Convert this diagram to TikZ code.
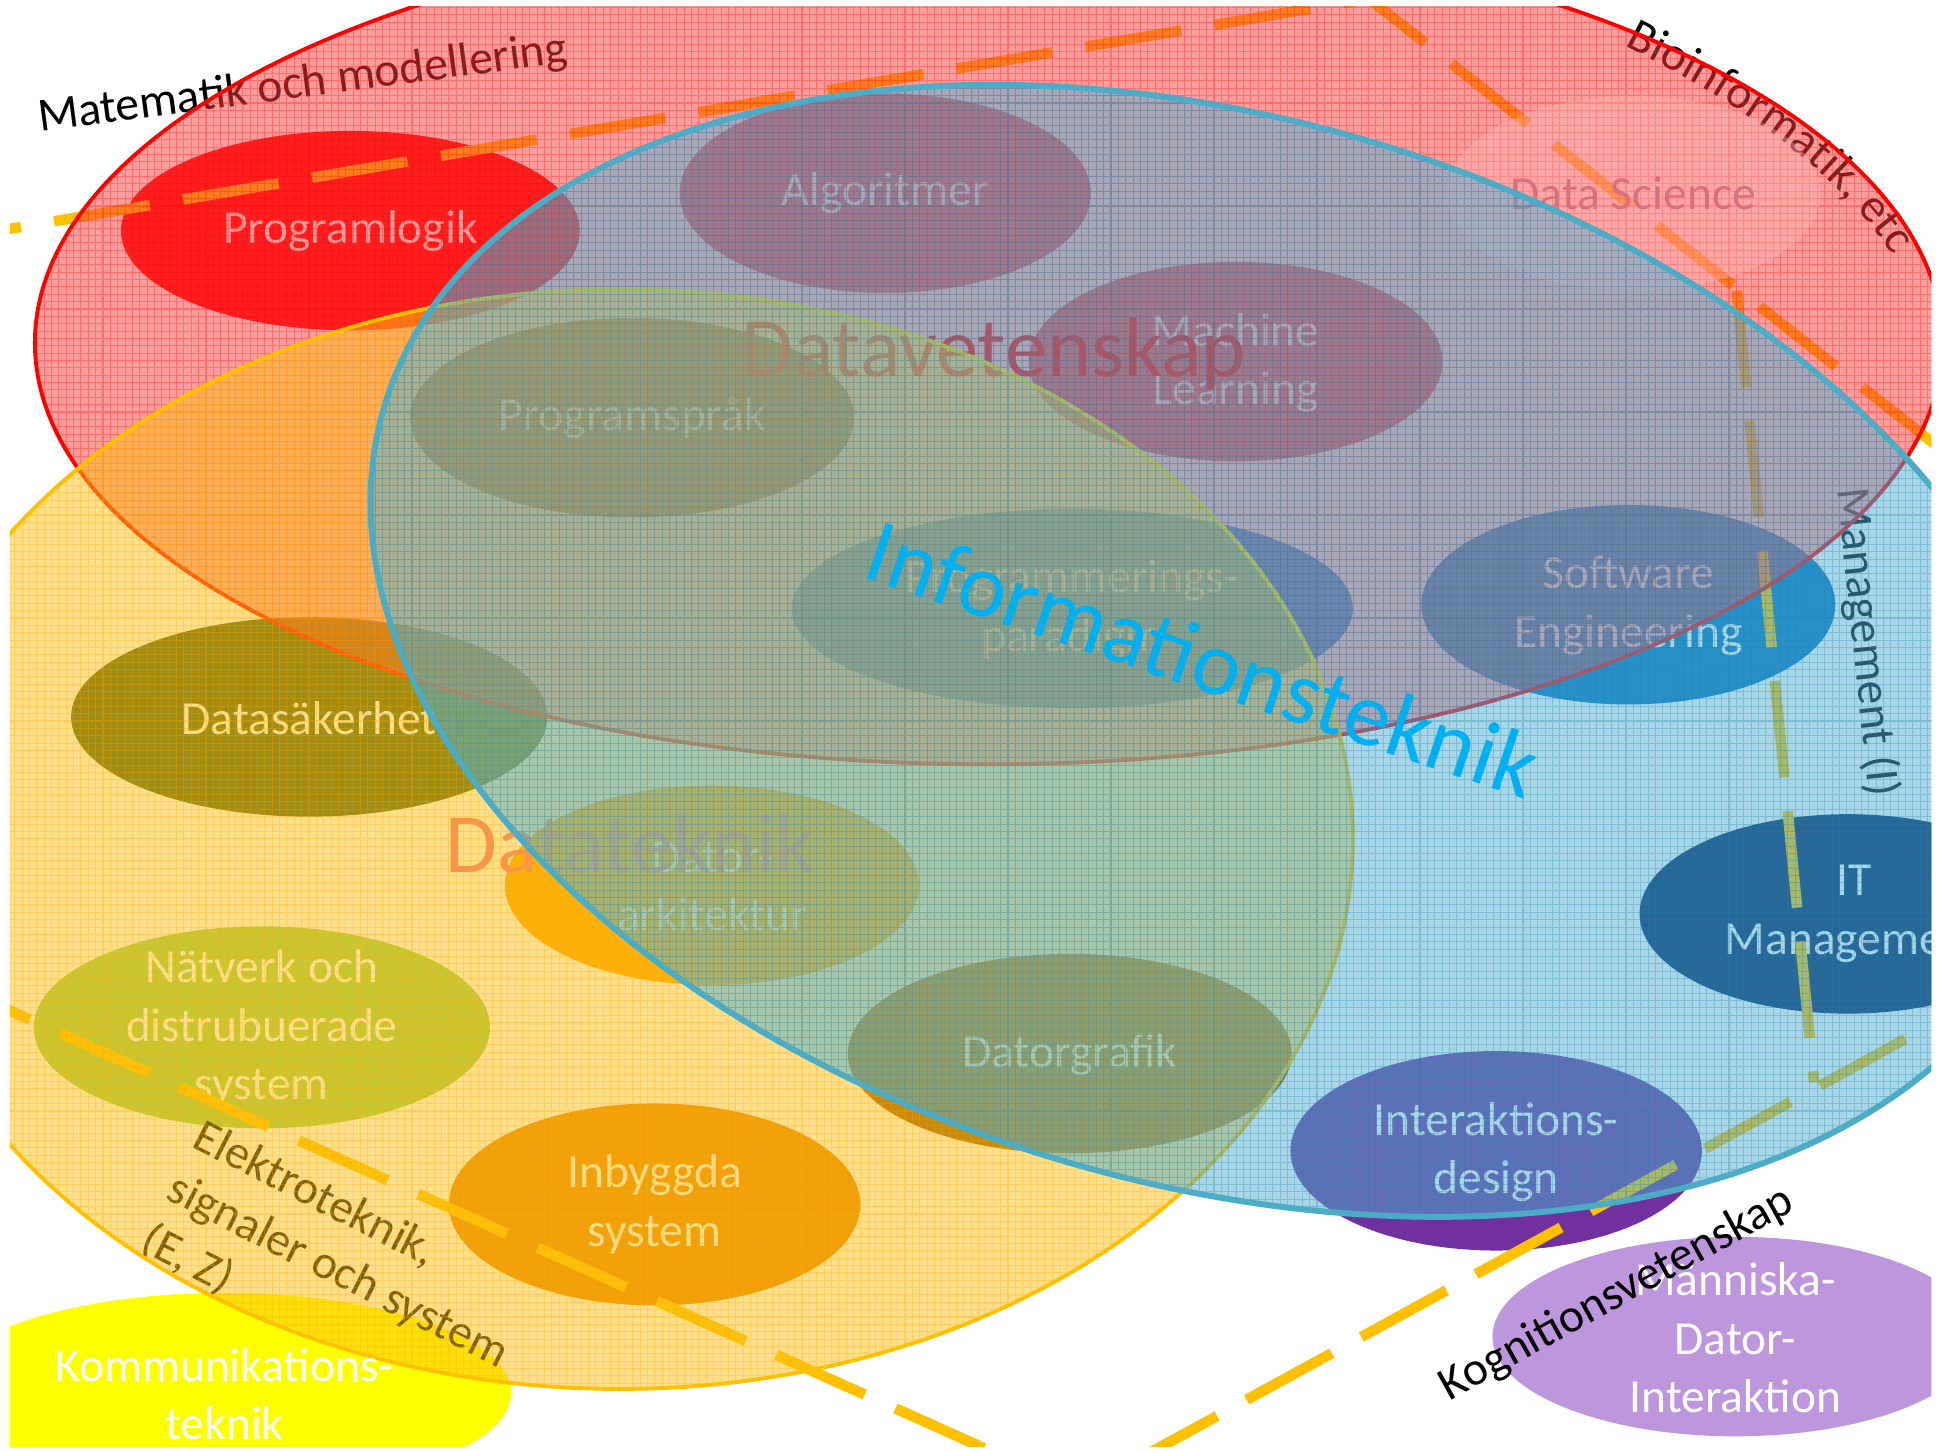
\documentclass[tikz,border=0pt]{standalone}
\usepackage{fontspec}
\setmainfont{Carlito}
\usetikzlibrary{decorations.text}
\definecolor{ovR}{RGB}{255,60,60}
\definecolor{ovY}{RGB}{255,192,20}
\definecolor{ovB}{RGB}{81,177,209}
\definecolor{gridR}{RGB}{255,0,0}
\definecolor{gridY}{RGB}{255,170,0}
\definecolor{gridB}{RGB}{30,130,170}
\definecolor{bordR}{RGB}{255,0,0}
\definecolor{bordY}{RGB}{255,192,0}
\definecolor{bordB}{RGB}{75,172,198}
\definecolor{dashc}{RGB}{255,192,0}
\definecolor{cProglogik}{RGB}{255,0,0}
\definecolor{cAlgo}{RGB}{220,70,85}
\definecolor{cSprak}{RGB}{120,60,0}
\definecolor{cParadigm}{RGB}{0,130,220}
\definecolor{cSE}{RGB}{0,112,192}
\definecolor{cDatasak}{RGB}{70,90,20}
\definecolor{cDatorark}{RGB}{255,160,0}
\definecolor{cNatverk}{RGB}{146,208,80}
\definecolor{cGrafik}{RGB}{150,85,0}
\definecolor{cInbyggda}{RGB}{228,128,0}
\definecolor{cInterakt}{RGB}{112,48,160}
\definecolor{cITM}{RGB}{0,32,96}
\definecolor{cKomm}{RGB}{255,255,0}
\definecolor{cMDI}{RGB}{190,150,222}
\definecolor{cDS}{RGB}{255,185,185}
\definecolor{tDS}{RGB}{214,112,122}
\definecolor{tDV}{RGB}{255,0,0}
\definecolor{tDT}{RGB}{247,150,70}
\definecolor{tIT}{RGB}{0,176,240}
\begin{document}
\begin{tikzpicture}[x=0.012468cm, y=-0.012468cm,
  lbl/.style={font=\fontsize{13.5}{16.6}\selectfont, text=white, align=center, inner sep=0pt},
  blk/.style={font=\fontsize{13.5}{16.6}\selectfont, text=black, inner sep=0pt},
  dashln/.style={draw=dashc, line width=3pt, dash pattern=on 27.6pt off 9.6pt},
  biglbl/.style={font=\fontsize{24}{28}\selectfont, inner sep=0pt, anchor=base},
  gridlines/.style={line width=0.3pt, draw opacity=0.3, step=0.07356cm}]
\useasboundingbox (0,0) rectangle (1568,1163);
\fill[white] (0,0) rectangle (1568,1163);
\begin{scope}
\clip (8,5) rectangle (1549,1160);
% ---- topic ellipses
\fill[cKomm] (180,1117) ellipse [x radius=230, y radius=80];
\fill[cMDI] (1392,1072) ellipse [x radius=195, y radius=80];
\fill[cProglogik] (281,185) ellipse [x radius=184, y radius=80];
\fill[cAlgo] (710,155) ellipse [x radius=165, y radius=80];
\fill[cAlgo] (991,290) ellipse [x radius=166, y radius=80];
\fill[cSprak] (507,335) ellipse [x radius=178, y radius=80];
\fill[cParadigm] (860,488) ellipse [x radius=225, y radius=80];
\fill[cSE] (1306,485) ellipse [x radius=166, y radius=80];
\fill[cDatasak] (248,575) ellipse [x radius=191, y radius=80];
\fill[cDatorark] (571,710) ellipse [x radius=166, y radius=80];
\fill[cITM] (1482,733) ellipse [x radius=167, y radius=80];
\fill[cNatverk] (210,824) ellipse [x radius=183, y radius=81];
\fill[cGrafik] (858,845) ellipse [x radius=178, y radius=80];
\fill[cInbyggda] (525,966) ellipse [x radius=165, y radius=81];
\fill[cInterakt] (1200,923) ellipse [x radius=165, y radius=80];
% ---- topic labels
\node[lbl] (nProglogik) at (281,185) {Programlogik};
\node[lbl] (nAlgo) at (710,155) {Algoritmer};
\node[lbl] (nML) at (991,291) {Machine\\Learning};
\node[lbl] (nSprak) at (507,335) {Programspråk};
\node[lbl] (nParadigm) at (860,489) {Programmerings-\\paradigm};
\node[lbl] (nSE) at (1306,486) {Software\\Engineering};
\node[lbl] (nDatasak) at (248,576) {Datasäkerhet};
\node[lbl] (nDatorark) at (571,711) {Dator-\\arkitektur};
\node[lbl] (nITM) at (1487,733) {IT\\Management};
\node[lbl] (nNatverk) at (210,825) {Nätverk och\\distrubuerade\\system};
\node[lbl] (nGrafik) at (858,846) {Datorgrafik};
\node[lbl] (nInbyggda) at (525,966) {Inbyggda\\system};
\node[lbl] (nInterakt) at (1200,924) {Interaktions-\\design};
\node[lbl] (nMDI) at (1392,1073) {Människa-\\Dator-\\Interaktion};
% ---- dashed boundaries
\coordinate (dA0) at (-60,195);
\coordinate (dApex) at (1098,-1);
\coordinate (dB1) at (1620,410);
\coordinate (dC0) at (1393,233);
\coordinate (dC1) at (1455,868);
\coordinate (dD0) at (1620,783);
\coordinate (dV) at (866,1196);
\coordinate (dE1) at (-60,780);
\draw[dashln] (dA0) -- (dApex) -- (dB1);
\draw[dashln] (dC0) -- (dC1);
\draw[dashln] (dD0) -- (dV) -- (dE1);
% ---- black field labels
\node[blk, rotate=7.5] (nMat) at (243,68) {Matematik och modellering};
\path[decorate, decoration={text along path, text align=center,
  text={|\fontsize{13.5}{16.6}\selectfont|Bioinformatik, etc}}]
  (1285,27) .. controls (1385,77) and (1475,132) .. (1530,222);
\node[blk, rotate=-84] (nMgmt) at (1497,515) {Management (I)};
\node[blk, rotate=-27, align=left, font=\fontsize{13.5}{16.5}\selectfont] (nElek) at (271,1020) {Elektroteknik,\\signaler och system\\(E, Z)};
% ---- Datavetenskap (red)
\begin{scope}
\clip (793,275) ellipse [x radius=765, y radius=338];
\fill[ovR, fill opacity=0.5] (0,0) rectangle (1568,1163);
\draw[gridR, gridlines] (0,1163) grid (1568,0);
\end{scope}
\draw[bordR, line width=1.1pt] (793,275) ellipse [x radius=765, y radius=338];
\fill[cDS, fill opacity=0.35] (1310,155) ellipse [x radius=150, y radius=78];
\node[lbl, text=tDS] (nDS) at (1310,155) {Data Science};
\node[biglbl, text=tDV] (nDV) at (797,302) {Datavetenskap};
% ---- Datateknik (yellow)
\begin{scope}
\clip (497,673) ellipse [x radius=588, y radius=441];
\fill[ovY, fill opacity=0.5] (0,0) rectangle (1568,1163);
\draw[gridY, gridlines] (0,1163) grid (1568,0);
\end{scope}
\draw[bordY, line width=1.1pt] (497,673) ellipse [x radius=588, y radius=441];
\node[biglbl, text=tDT] (nDT) at (505,700) {Datateknik};
% ---- Informationsteknik (blue)
\begin{scope}
\clip[rotate around={-16.3:(975,522)}] (975,522) ellipse [x radius=695, y radius=427];
\fill[ovB, fill opacity=0.5] (0,0) rectangle (1568,1163);
\draw[gridB, gridlines] (0,1163) grid (1568,0);
\end{scope}
\draw[bordB, line width=1.7pt, rotate around={-16.3:(975,522)}] (975,522) ellipse [x radius=695, y radius=427];
\node[font=\fontsize{26}{30}\selectfont, text=tIT, inner sep=0pt, rotate=-18.5] (nIT) at (965,528) {Informationsteknik};
% ---- labels that stay on top
\node[lbl] (nKomm) at (180,1118) {Kommunikations-\\teknik};
\node[blk, rotate=29] (nKog) at (1297,1038) {Kognitionsvetenskap};
\end{scope}
\end{tikzpicture}
\end{document}
